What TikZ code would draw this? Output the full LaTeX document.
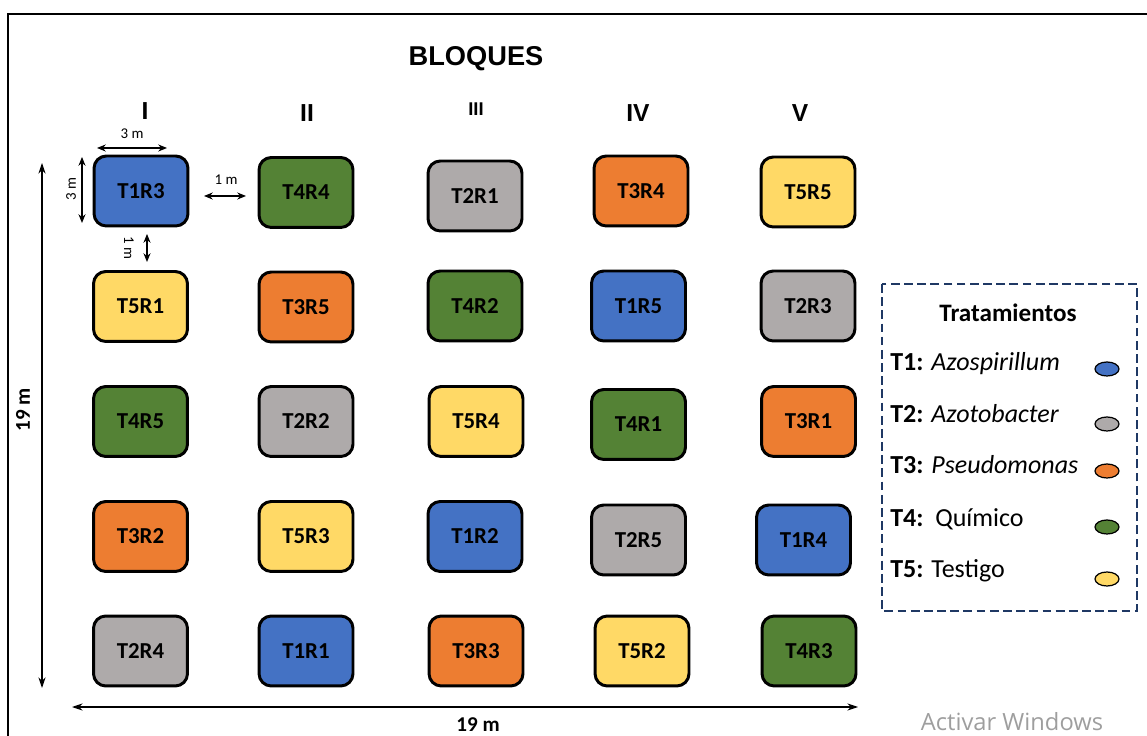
\documentclass[tikz,border=0pt]{standalone}
\usepackage{fontspec}
\setmainfont{Carlito}
\newfontfamily\arialfont{Liberation Sans}
\newfontfamily\winfont{Open Sans}
\usetikzlibrary{arrows.meta,shapes.geometric}
\definecolor{tBlue}{HTML}{4472C4}
\definecolor{tGray}{HTML}{AEAAAA}
\definecolor{tOrange}{HTML}{ED7D31}
\definecolor{tGreen}{HTML}{548235}
\definecolor{tYellow}{HTML}{FFD966}
\definecolor{navy}{HTML}{1F3864}
\tikzset{
  plotbox/.style={draw=black, line width=1.7pt, rounded corners=7pt,
    minimum width=1.88cm, minimum height=1.40cm, inner sep=0pt,
    font=\fontsize{13}{14}\selectfont\bfseries},
  t1/.style={plotbox, fill=tBlue},
  t2/.style={plotbox, fill=tGray},
  t3/.style={plotbox, fill=tOrange},
  t4/.style={plotbox, fill=tGreen},
  t5/.style={plotbox, fill=tYellow},
  dim/.style={line width=0.6pt, {Stealth[length=5pt,width=4pt]}-{Stealth[length=5pt,width=4pt]}},
  bigdim/.style={line width=0.6pt, {Stealth[length=6pt,width=4pt]}-{Stealth[length=6pt,width=4pt]}},
  dimlabel/.style={font=\fontsize{8.5}{10}\selectfont, inner sep=1pt},
  bigdimlabel/.style={font=\bfseries\fontsize{12}{14}\selectfont, inner sep=1pt},
  colnum/.style={font=\arialfont\bfseries\fontsize{14}{16}\selectfont},
  legtext/.style={anchor=base west, font=\fontsize{14.8}{16}\selectfont, inner sep=0pt},
  legdot/.style={ellipse, draw=black, line width=0.7pt, minimum width=0.48cm, minimum height=0.28cm, inner sep=0pt}
}
\begin{document}
\begin{tikzpicture}[x=0.02cm,y=-0.02cm]
\useasboundingbox (0,0) rectangle (1147,736);

% outer frame (open on the right and at the bottom)
\draw[line width=1.5pt] (8,736) -- (8,14) -- (1147,14);

% title and block numbers
\node[font=\arialfont\bfseries\fontsize{15.5}{18}\selectfont] (title) at (476,59) {BLOQUES};
\node[colnum] (bI)   at (145,111) {I};
\node[colnum] (bII)  at (307,113) {II};
\node[colnum, font=\arialfont\bfseries\fontsize{10.5}{12}\selectfont] (bIII) at (476,109) {III};
\node[colnum] (bIV)  at (638,113) {IV};
\node[colnum] (bV)   at (800,113) {V};

% plots, row by row
\node[t1] (p11) at (141,191)   {T1R3};
\node[t4] (p12) at (306,192.5) {T4R4};
\node[t2] (p13) at (475,196)   {T2R1};
\node[t3] (p14) at (641,191)   {T3R4};
\node[t5] (p15) at (808,192)   {T5R5};

\node[t5] (p21) at (140.5,306.5) {T5R1};
\node[t3] (p22) at (306,307)     {T3R5};
\node[t4] (p23) at (475,306)     {T4R2};
\node[t1] (p24) at (638.5,306)   {T1R5};
\node[t2] (p25) at (808,306)     {T2R3};

\node[t4] (p31) at (140.5,421.5) {T4R5};
\node[t2] (p32) at (306,421.5)   {T2R2};
\node[t5] (p33) at (476,421.5)   {T5R4};
\node[t4] (p34) at (638.5,424.5) {T4R1};
\node[t3] (p35) at (808.5,421.5) {T3R1};

\node[t3] (p41) at (140.5,536.5) {T3R2};
\node[t5] (p42) at (306,536.5)   {T5R3};
\node[t1] (p43) at (475,536.5)   {T1R2};
\node[t2] (p44) at (638.5,540)   {T2R5};
\node[t1] (p45) at (803.5,540)   {T1R4};

\node[t2] (p51) at (140.5,651) {T2R4};
\node[t1] (p52) at (306,651)   {T1R1};
\node[t3] (p53) at (476,651)   {T3R3};
\node[t5] (p54) at (642,651)   {T5R2};
\node[t4] (p55) at (809,651)   {T4R3};

% dimension end points
\coordinate (wA) at (97,148);  \coordinate (wB) at (167,148);
\coordinate (hA) at (82,157);  \coordinate (hB) at (82,223);
\coordinate (gA) at (204,196); \coordinate (gB) at (246,196);
\coordinate (vA) at (147,234); \coordinate (vB) at (147,262);
\coordinate (LA) at (42,163);  \coordinate (LB) at (42,688);
\coordinate (WA) at (72,707);  \coordinate (WB) at (858,707);

% dimensions
\draw[dim] (wA) -- (wB);
\node[dimlabel] (lw) at (132,134) {3 m};
\draw[dim] (hA) -- (hB);
\node[dimlabel, rotate=90] (lh) at (71,189) {3 m};
\draw[dim] (gA) -- (gB);
\node[dimlabel] (lg) at (226,180) {1 m};
\draw[dim] (vA) -- (vB);
\node[dimlabel, rotate=-90] (lv) at (129,248) {1 m};
\draw[bigdim] (LA) -- (LB);
\node[bigdimlabel, rotate=90] (lL) at (23,410) {19 m};
\draw[bigdim] (WA) -- (WB);
\node[bigdimlabel] (lW) at (478,725) {19 m};

% legend
\draw[navy, line width=1.3pt, dash pattern=on 5pt off 2.5pt] (882,284) rectangle (1137,611);
\node[font=\bfseries\fontsize{14.3}{16}\selectfont] (legtitle) at (1008,313) {Tratamientos};
\node[legtext] (l1) at (890,371) {\textbf{T1:} \textit{Azospirillum}};
\node[legtext] (l2) at (890,423) {\textbf{T2:} \textit{Azotobacter}};
\node[legtext] (l3) at (890,474) {\textbf{T3:} \textit{Pseudomonas}};
\node[legtext] (l4) at (890,527) {\textbf{T4:}\ \ Químico};
\node[legtext] (l5) at (890,578) {\textbf{T5:} Testigo};
\node[legdot, fill=tBlue]   (d1) at (1107,369) {};
\node[legdot, fill=tGray]   (d2) at (1107,424) {};
\node[legdot, fill=tOrange] (d3) at (1107,471) {};
\node[legdot, fill=tGreen]  (d4) at (1107,527) {};
\node[legdot, fill=tYellow] (d5) at (1107,579) {};

% system watermark
\node[font=\winfont\fontsize{13.5}{16}\selectfont, text=black!38] (wm) at (1012,722) {Activar Windows};
\end{tikzpicture}
\end{document}
